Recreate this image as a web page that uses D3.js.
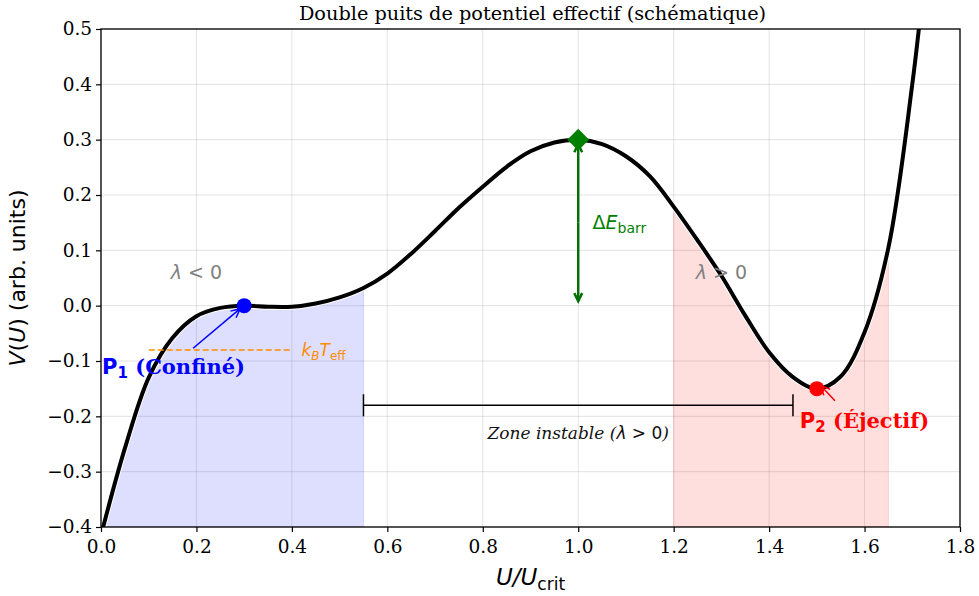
<!DOCTYPE html>
<html><head><meta charset="utf-8">
<script src="https://cdn.jsdelivr.net/npm/d3@7"></script>
<style>body{margin:0;background:#fff}</style>
</head><body>
<svg id="c" width="979" height="596"></svg>
<script>
// Curve samples
const uValues = [0.00,0.05,0.10,0.15,0.20,0.25,0.30,0.35,0.40,0.45,0.50,0.55,0.60,0.65,0.70,0.75,0.80,0.85,0.90,0.95,1.00,1.05,1.10,1.15,1.20,1.25,1.30,1.35,1.40,1.45,1.50,1.55,1.60,1.65,1.70,1.72];
const vValues = [-0.415,-0.258,-0.130,-0.058,-0.019,-0.004,0.000,-0.002,-0.002,0.004,0.015,0.032,0.058,0.094,0.135,0.177,0.215,0.251,0.279,0.295,0.300,0.292,0.270,0.234,0.179,0.118,0.054,-0.018,-0.084,-0.129,-0.150,-0.128,-0.048,0.105,0.400,0.550];
const xTicks = [0.0,0.2,0.4,0.6,0.8,1.0,1.2,1.4,1.6,1.8];
const yTicks = [-0.4,-0.3,-0.2,-0.1,0.0,0.1,0.2,0.3,0.4,0.5];
const confinedZone = [0.0, 0.55];
const ejectZone = [1.2, 1.65];
const p1 = [0.3, 0.0];
const p2 = [1.5, -0.15];
const barrierTop = [1.0, 0.3];
const kTLevel = -0.08, kTRange = [0.1, 0.4];
const unstableRange = [0.55, 1.45], unstableLevel = -0.18;

const W = 979, H = 596;
const m = {l:101, r:960, t:29, b:527};
const x = d3.scaleLinear().domain([0,1.8]).range([m.l, m.r]);
const y = d3.scaleLinear().domain([-0.4,0.5]).range([m.b, m.t]);
const svg = d3.select('#c');
const data = uValues.map((u,i)=>({u, v:vValues[i]}));

svg.append('defs').append('clipPath').attr('id','clip')
  .append('rect').attr('x',m.l).attr('y',m.t).attr('width',m.r-m.l).attr('height',m.b-m.t);

// grid
const grid = svg.append('g');
grid.selectAll('.gx').data(xTicks).join('line')
  .attr('x1',d=>x(d)).attr('x2',d=>x(d)).attr('y1',m.t).attr('y2',m.b)
  .attr('stroke','#b0b0b0').attr('stroke-opacity',0.35).attr('stroke-width',1);
grid.selectAll('.gy').data(yTicks).join('line')
  .attr('y1',d=>y(d)).attr('y2',d=>y(d)).attr('x1',m.l).attr('x2',m.r)
  .attr('stroke','#b0b0b0').attr('stroke-opacity',0.35).attr('stroke-width',1);

const plot = svg.append('g').attr('clip-path','url(#clip)');
const curve = d3.curveCatmullRom.alpha(0.5);
const area = d3.area().x(d=>x(d.u)).y0(y(-0.4)).y1(d=>y(d.v)).curve(curve);
plot.append('path').datum(data.filter(d=>d.u>=confinedZone[0]&&d.u<=confinedZone[1]+1e-9))
  .attr('d',area).attr('fill','rgba(0,0,255,0.13)').attr('stroke','rgba(0,0,255,0.13)');
plot.append('path').datum(data.filter(d=>d.u>=ejectZone[0]-1e-9&&d.u<=ejectZone[1]+1e-9))
  .attr('d',area).attr('fill','rgba(255,0,0,0.13)').attr('stroke','rgba(255,0,0,0.13)');

const line = d3.line().x(d=>x(d.u)).y(d=>y(d.v)).curve(curve);
plot.append('path').datum(data).attr('d',line).attr('fill','none')
  .attr('stroke','#fff').attr('stroke-width',6).attr('stroke-linejoin','round');
plot.append('path').datum(data).attr('d',line).attr('fill','none')
  .attr('stroke','#000').attr('stroke-width',4).attr('stroke-linejoin','round');

// axes
const ax = svg.append('g').attr('transform',`translate(0,${m.b})`)
  .call(d3.axisBottom(x).tickValues(xTicks).tickFormat(d3.format('.1f')).tickSize(5).tickSizeOuter(0));
const ay = svg.append('g').attr('transform',`translate(${m.l},0)`)
  .call(d3.axisLeft(y).tickValues(yTicks).tickFormat(d=>d3.format('.1f')(d).replace('-','−')).tickSize(5).tickSizeOuter(0));
[ax,ay].forEach(g=>{
  g.select('.domain').remove();
  g.selectAll('.tick line').attr('stroke','#000').attr('stroke-width',1.2);
  g.selectAll('.tick text').attr('font-family','DejaVu Serif').attr('font-size',18.5).attr('fill','#000');
});
ax.selectAll('.tick text').attr('dy','0.95em');
ay.selectAll('.tick text').attr('dx','-0.05em');
svg.append('rect').attr('x',m.l).attr('y',m.t).attr('width',m.r-m.l).attr('height',m.b-m.t)
  .attr('fill','none').attr('stroke','#000').attr('stroke-width',1.3);

// title
svg.append('text').attr('x',(m.l+m.r)/2+2).attr('y',20).attr('text-anchor','middle')
  .attr('font-family','DejaVu Serif').attr('font-size',19.3).text('Double puits de potentiel effectif (schématique)');

// x label
const xl = svg.append('text').attr('x',(m.l+m.r)/2).attr('y',585).attr('text-anchor','middle')
  .attr('font-family','DejaVu Sans').attr('font-size',23);
xl.append('tspan').attr('font-style','italic').text('U/U');
xl.append('tspan').attr('font-size',17).attr('dy',5).text('crit');
// y label
const yl = svg.append('text').attr('transform',`translate(25,${(m.t+m.b)/2}) rotate(-90)`).attr('text-anchor','middle')
  .attr('font-family','DejaVu Sans').attr('font-size',22);
yl.append('tspan').attr('font-style','italic').text('V');
yl.append('tspan').text('(');
yl.append('tspan').attr('font-style','italic').text('U');
yl.append('tspan').text(') (arb. units)');

// lambda labels
svg.append('text').attr('x',x(0.2)).attr('y',y(0.06)).attr('dy','0.35em').attr('text-anchor','middle')
  .attr('font-family','DejaVu Sans').attr('font-size',19).attr('fill','#808080')
  .html('<tspan font-style="italic">λ</tspan> &lt; 0');
svg.append('text').attr('x',x(1.3)).attr('y',y(0.06)).attr('dy','0.35em').attr('text-anchor','middle')
  .attr('font-family','DejaVu Sans').attr('font-size',19).attr('fill','#808080')
  .html('<tspan font-style="italic">λ</tspan> &gt; 0');

// kT line
svg.append('line').attr('x1',x(kTRange[0])).attr('x2',x(kTRange[1])).attr('y1',y(kTLevel)).attr('y2',y(kTLevel))
  .attr('stroke','#ff8c00').attr('stroke-width',1.5).attr('stroke-dasharray','6,3');
const kt = svg.append('text').attr('x',x(0.42)).attr('y',y(kTLevel)).attr('dy','0.35em')
  .attr('font-family','DejaVu Sans').attr('font-size',17).attr('fill','#ff8c00');
kt.append('tspan').attr('font-style','italic').text('k');
kt.append('tspan').attr('font-style','italic').attr('font-size',12).attr('dy',4).text('B');
kt.append('tspan').attr('font-style','italic').attr('dy',-4).text('T');
kt.append('tspan').attr('font-size',12).attr('dy',4).text('eff');

// arrow helper
function arrow(x1,y1,x2,y2,color,w,head){
  svg.append('line').attr('x1',x1).attr('y1',y1).attr('x2',x2).attr('y2',y2)
    .attr('stroke',color).attr('stroke-width',w);
  const a = Math.atan2(y2-y1,x2-x1), L=head, s=0.45;
  const p = [[x2-L*Math.cos(a-s), y2-L*Math.sin(a-s)],[x2,y2],[x2-L*Math.cos(a+s), y2-L*Math.sin(a+s)]];
  svg.append('path').attr('d',d3.line()(p)).attr('fill','none').attr('stroke',color)
    .attr('stroke-width',w).attr('stroke-linejoin','miter');
}

// P1
arrow(x(0.193),y(-0.077),x(p1[0])-4,y(p1[1])+3,'#0000ff',1.5,10);
svg.append('circle').attr('cx',x(p1[0])).attr('cy',y(p1[1])).attr('r',7.5).attr('fill','#0000ff');
const t1 = svg.append('text').attr('x',x(0.152)).attr('y',y(-0.11)).attr('dy','0.35em').attr('text-anchor','middle')
  .attr('font-size',21).attr('font-weight','bold').attr('fill','#0000ff');
t1.append('tspan').attr('font-family','DejaVu Sans').text('P');
t1.append('tspan').attr('font-family','DejaVu Sans').attr('font-size',15).attr('dy',4).text('1');
t1.append('tspan').attr('font-family','DejaVu Serif').attr('dy',-4).text(' (Confiné)');

// P2
arrow(x(1.538),y(-0.172),x(p2[0])+4,y(p2[1])-3,'#ff0000',1.5,10);
svg.append('circle').attr('cx',x(p2[0])).attr('cy',y(p2[1])).attr('r',7.5).attr('fill','#ff0000');
const t2 = svg.append('text').attr('x',x(1.6)).attr('y',y(-0.208)).attr('dy','0.35em').attr('text-anchor','middle')
  .attr('font-size',21).attr('font-weight','bold').attr('fill','#ff0000');
t2.append('tspan').attr('font-family','DejaVu Sans').text('P');
t2.append('tspan').attr('font-family','DejaVu Sans').attr('font-size',15).attr('dy',4).text('2');
t2.append('tspan').attr('font-family','DejaVu Serif').attr('dy',-4).text(' (Éjectif)');

// barrier arrow
const bx = x(barrierTop[0]);
arrow(bx,y(0.15),bx,y(0.292),'#007000',2.5,9);
arrow(bx,y(0.15),bx,y(0.008),'#007000',2.5,9);
svg.append('path').attr('d',d3.symbol().type(d3.symbolSquare).size(240)())
  .attr('transform',`translate(${bx},${y(barrierTop[1])}) rotate(45)`)
  .attr('fill','#008000');
const de = svg.append('text').attr('x',x(1.03)).attr('y',y(0.15)).attr('dy','0.35em')
  .attr('font-family','DejaVu Sans').attr('font-size',19).attr('fill','#008000');
de.append('tspan').text('Δ');
de.append('tspan').attr('font-style','italic').text('E');
de.append('tspan').attr('font-size',14).attr('dy',4).text('barr');

// unstable zone bracket
const uy = y(unstableLevel);
svg.append('line').attr('x1',x(unstableRange[0])).attr('x2',x(unstableRange[1])).attr('y1',uy).attr('y2',uy)
  .attr('stroke','#000').attr('stroke-width',1.5);
unstableRange.forEach(u=>svg.append('line').attr('x1',x(u)).attr('x2',x(u)).attr('y1',uy-11).attr('y2',uy+11)
  .attr('stroke','#000').attr('stroke-width',1.5));
const zt = svg.append('text').attr('x',x(1.0)).attr('y',y(-0.23)).attr('dy','0.35em').attr('text-anchor','middle')
  .attr('font-family','DejaVu Serif').attr('font-style','italic').attr('font-size',17).attr('fill','#111');
zt.append('tspan').text('Zone instable (');
zt.append('tspan').attr('font-family','DejaVu Sans').text('λ');
zt.append('tspan').attr('font-family','DejaVu Sans').attr('font-style','normal').text(' > 0');
zt.append('tspan').text(')');
</script>
</body></html>
